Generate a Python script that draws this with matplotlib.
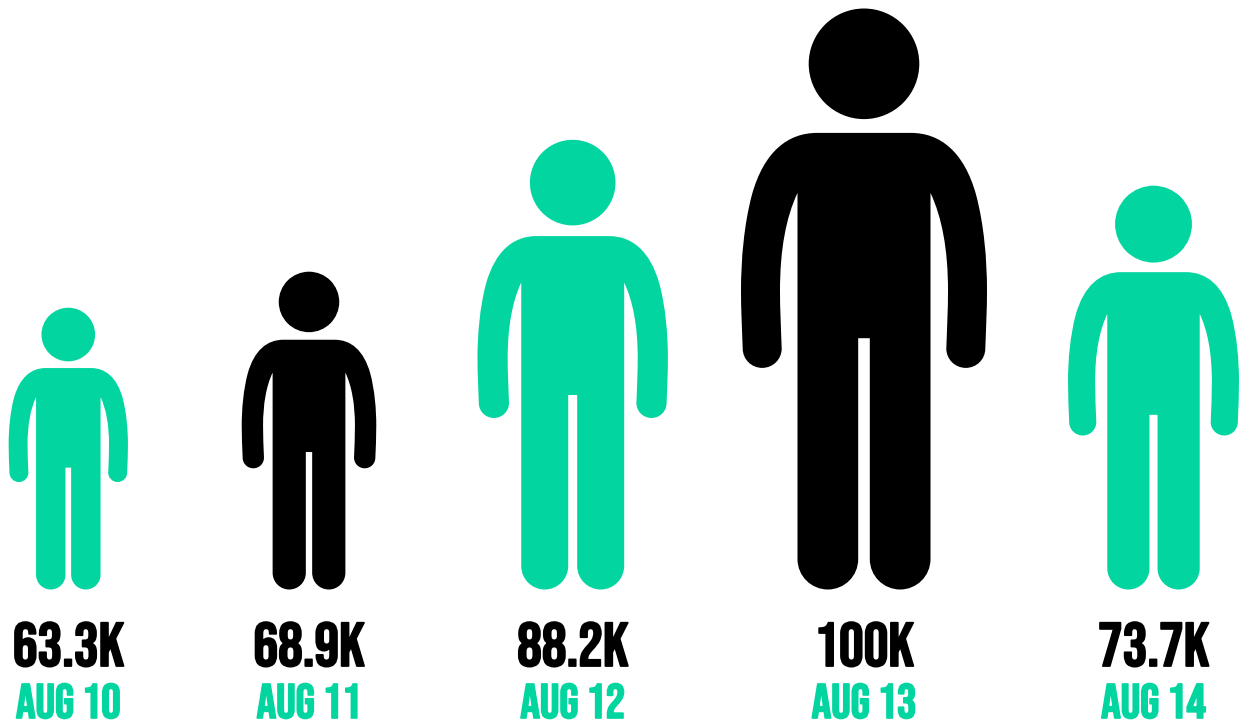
import matplotlib
matplotlib.use('Agg')
import matplotlib.pyplot as plt
import matplotlib.patheffects as pe
from matplotlib.patches import Circle, PathPatch
from matplotlib.path import Path
from matplotlib.transforms import Affine2D

# Daily counts, in thousands
days = ['AUG 10', 'AUG 11', 'AUG 12', 'AUG 13', 'AUG 14']
values = [63.3, 68.9, 88.2, 100, 73.7]
highlight = [False, True, False, True, False]

# Height of each figure as a share of the tallest one
height_share = [0.485, 0.547, 0.774, 1.0, 0.695]

centers = [68.3, 309, 572.7, 864, 1153.5]
ground = 589.5
GREEN = '#02d5a0'
BLACK = '#000000'
FONT = ['Bebas Neue', 'Liberation Sans Narrow', 'DejaVu Sans']

# Right half of the person icon, from the neck round the arm and down the leg
M, L, C = Path.MOVETO, Path.LINETO, Path.CURVE4
half = [
    (0, 456.6, M), (47, 456.6, L),
    (76, 456.6, C), (100, 438, C), (112, 395, C),
    (120, 365, C), (123, 330, C), (123, 299, C),
    (123, 280, C), (122, 260, C), (121.3, 241, C),
    (121.3, 230.2, C), (112.6, 221.6, C), (101.8, 221.6, C),
    (91, 221.6, C), (82.3, 230.2, C), (82.3, 241, C),
    (83, 260, C), (84, 280, C), (84, 299, C),
    (84, 340, C), (78, 372, C), (66.5, 396.6, C),
    (66.5, 30.35, L),
    (66.5, 13.6, C), (52.9, 0, C), (36.15, 0, C),
    (19.4, 0, C), (5.8, 13.6, C), (5.8, 30.35, C),
    (5.8, 251.3, L), (0, 251.3, L),
]
verts = [(x, y) for x, y, _ in half]
codes = [c for _, _, c in half]

# Mirror the half outline back up the left side
verts_full = verts + [(-x, y) for x, y in verts[-2::-1]]
codes_full = codes + codes[1:][::-1]
verts_full.append((0, 0))
codes_full.append(Path.CLOSEPOLY)
body = Path(verts_full, codes_full)

fig = plt.figure(figsize=(12.41, 7.21), dpi=100)
ax = fig.add_axes([0, 0, 1, 1])
ax.set_xlim(0, 1241)
ax.set_ylim(721, 0)
ax.axis('off')

for day, val, hi, share, cx in zip(days, values, highlight, height_share, centers):
    color = BLACK if hi else GREEN
    tr = Affine2D().scale(share, -share).translate(cx, ground) + ax.transData
    ax.add_patch(PathPatch(body, facecolor=color, edgecolor='none', transform=tr))
    ax.add_patch(Circle((0, 525.7), 55.3, facecolor=color, edgecolor='none', transform=tr))

    # thin outline in the text colour makes the labels heavier
    t1 = ax.text(cx, 666, f'{val:g}K', ha='center', va='baseline', color=BLACK,
                 family=FONT, fontsize=44.5)
    t1.set_path_effects([pe.withStroke(linewidth=1.3, foreground=BLACK)])
    t2 = ax.text(cx, 718, day, ha='center', va='baseline', color=GREEN,
                 family=FONT, fontsize=35)
    t2.set_path_effects([pe.withStroke(linewidth=1.2, foreground=GREEN)])

fig.savefig('out.png', dpi=100)
